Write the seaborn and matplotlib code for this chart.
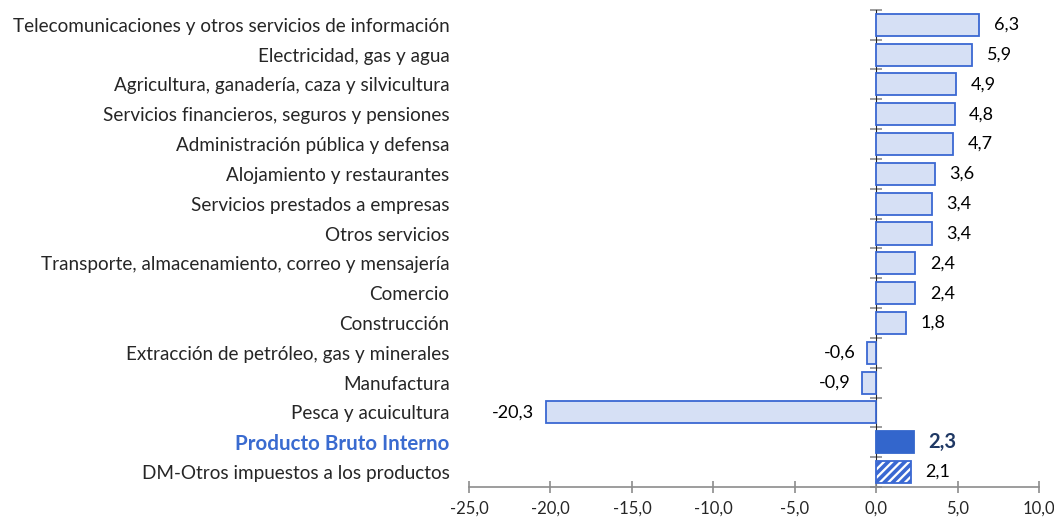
import numpy as np
import pandas as pd
import matplotlib
matplotlib.use("Agg")
import matplotlib.pyplot as plt
from matplotlib.ticker import FuncFormatter, FixedLocator
import seaborn as sns

sectores = [
    "Telecomunicaciones y otros servicios de información",
    "Electricidad, gas y agua",
    "Agricultura, ganadería, caza y silvicultura",
    "Servicios financieros, seguros y pensiones",
    "Administración pública y defensa",
    "Alojamiento y restaurantes",
    "Servicios prestados a empresas",
    "Otros servicios",
    "Transporte, almacenamiento, correo y mensajería",
    "Comercio",
    "Construcción",
    "Extracción de petróleo, gas y minerales",
    "Manufactura",
    "Pesca y acuicultura",
    "Producto Bruto Interno",
    "DM-Otros impuestos a los productos",
]
variacion = [6.3, 5.9, 4.9, 4.8, 4.7, 3.6, 3.4, 3.4, 2.4, 2.4, 1.8, -0.6, -0.9, -20.3, 2.3, 2.1]

df = pd.DataFrame({"sector": sectores, "var": variacion})

sns.set_style("white")
plt.rcParams["font.family"] = ["Lato", "DejaVu Sans"]
plt.rcParams["hatch.linewidth"] = 2.6

fill = "#D6E0F5"
edge = "#3A68D2"
pbi = "#3366CC"
gris = "#8C8C8C"

fig = plt.figure(figsize=(10.54, 5.17), dpi=100)
ax = fig.add_axes([0.445, 0.058, 0.541, 0.923])

sns.barplot(data=df, x="var", y="sector", orient="h", color=fill, width=0.74,
            edgecolor=edge, linewidth=1.3, saturation=1, ax=ax)

idx_pbi = sectores.index("Producto Bruto Interno")
idx_dm = len(sectores) - 1
ax.patches[idx_pbi].set_facecolor(pbi)
ax.patches[idx_pbi].set_edgecolor(pbi)
ax.patches[idx_dm].set_facecolor("white")
ax.patches[idx_dm].set_hatch("////")

ax.set_xlim(-25, 10)
ax.set_ylim(len(sectores) - 0.5, -0.5)
ax.set_xlabel("")
ax.set_ylabel("")

for s in ["top", "right", "left"]:
    ax.spines[s].set_visible(False)
ax.spines["bottom"].set_color(gris)
ax.spines["bottom"].set_linewidth(1.2)

ax.xaxis.set_major_locator(FixedLocator(np.arange(-25, 10.1, 5)))
ax.xaxis.set_major_formatter(FuncFormatter(lambda v, p: f"{v:.1f}".replace(".", ",")))
ax.tick_params(axis="x", direction="inout", length=8, width=1.2, color=gris,
               labelsize=12, pad=6, bottom=True)
ax.tick_params(axis="y", length=0, labelsize=13.6, pad=14)

for lab in ax.get_yticklabels():
    if lab.get_text() == "Producto Bruto Interno":
        lab.set_color("#3A6BD0")
        lab.set_fontweight("bold")
        lab.set_fontsize(14.8)

# eje vertical en cero
eje = ax.secondary_yaxis(25 / 35)
eje.set_ylim(ax.get_ylim())
eje.spines["left"].set_color(gris)
eje.spines["left"].set_linewidth(1.5)
eje.set_yticks(np.arange(-0.5, len(sectores) - 0.4, 1))
eje.set_yticklabels([])
eje.tick_params(axis="y", direction="inout", length=8, width=1.2, color=gris,
                labelleft=False, labelright=False)

for i, v in enumerate(variacion):
    txt = f"{v:.1f}".replace(".", ",")
    if v >= 0:
        x, ha = v + 0.9, "left"
    else:
        x, ha = v - 0.7, "right"
    if i == idx_pbi:
        ax.text(x, i, txt, ha=ha, va="center", fontsize=14.5, fontweight="bold", color="#1F3864")
    else:
        ax.text(x, i, txt, ha=ha, va="center", fontsize=13, color="black")

fig.savefig("out.png", dpi=100)
